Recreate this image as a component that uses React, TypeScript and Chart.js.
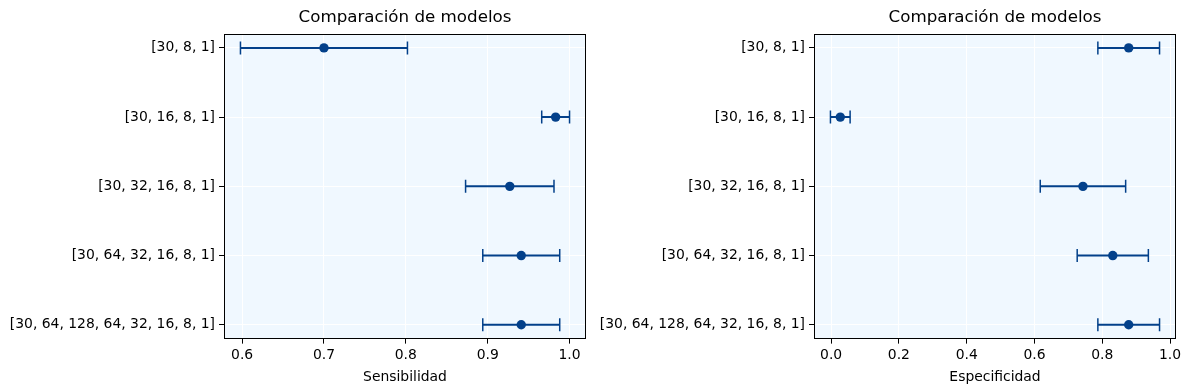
import React, { useEffect, useRef } from "react";
import { Chart, registerables } from "chart.js";

Chart.register(...registerables);

const models = [
  "[30, 8, 1]",
  "[30, 16, 8, 1]",
  "[30, 32, 16, 8, 1]",
  "[30, 64, 32, 16, 8, 1]",
  "[30, 64, 128, 64, 32, 16, 8, 1]",
];
const sensMean = [0.7, 0.983, 0.927, 0.941, 0.941];
const sensErr = [0.102, 0.017, 0.054, 0.047, 0.047];
const specMean = [0.878, 0.027, 0.743, 0.831, 0.878];
const specErr = [0.091, 0.029, 0.126, 0.105, 0.091];
const sensTicks = [0.6, 0.7, 0.8, 0.9, 1.0];
const specTicks = [0.0, 0.2, 0.4, 0.6, 0.8, 1.0];
const yIndexTicks = [0, 1, 2, 3, 4];

const COLOR = "#03408a";
const BG = "#F0F8FF";
const FONT = "'DejaVu Sans', sans-serif";

const framePlugin = {
  id: "frame",
  beforeDraw(chart: any) {
    const { ctx, chartArea: a } = chart;
    ctx.save();
    ctx.fillStyle = BG;
    ctx.fillRect(a.left, a.top, a.right - a.left, a.bottom - a.top);
    ctx.restore();
  },
  afterDatasetsDraw(chart: any) {
    const { ctx, chartArea: a } = chart;
    ctx.save();
    ctx.strokeStyle = "#000";
    ctx.lineWidth = 1;
    ctx.strokeRect(
      Math.round(a.left) + 0.5,
      Math.round(a.top) + 0.5,
      Math.round(a.right - a.left) - 1,
      Math.round(a.bottom - a.top) - 1
    );
    ctx.restore();
  },
};

type PanelProps = {
  left: number;
  width: number;
  yAxisWidth: number;
  padRight: number;
  title: string;
  xlabel: string;
  means: number[];
  errs: number[];
  xticks: number[];
};

function Panel(props: PanelProps) {
  const ref = useRef<HTMLCanvasElement | null>(null);
  useEffect(() => {
    if (!ref.current) return;
    const { means, errs } = props;
    const lows = means.map((m, i) => m - errs[i]);
    const highs = means.map((m, i) => m + errs[i]);
    const lo = Math.min(...lows);
    const hi = Math.max(...highs);
    const pad = (hi - lo) * 0.05;

    const errDatasets = means.map((m, i) => ({
      type: "scatter" as const,
      data: [
        { x: lows[i], y: i },
        { x: highs[i], y: i },
      ],
      showLine: true,
      borderColor: COLOR,
      borderWidth: 2,
      pointStyle: "line" as const,
      pointRotation: 90,
      pointRadius: 6.5,
      pointHoverRadius: 6.5,
      pointBorderWidth: 1.5,
      pointBorderColor: COLOR,
      pointBackgroundColor: COLOR,
      order: 2,
    }));

    const markerDataset = {
      type: "scatter" as const,
      data: means.map((m, i) => ({ x: m, y: i })),
      showLine: false,
      pointStyle: "circle" as const,
      pointRadius: 4.7,
      pointHoverRadius: 4.7,
      pointBackgroundColor: COLOR,
      pointBorderColor: COLOR,
      pointBorderWidth: 0,
      order: 1,
    };

    const chart = new Chart(ref.current, {
      type: "scatter",
      data: { datasets: [markerDataset, ...errDatasets] as any },
      options: {
        animation: false,
        responsive: false,
        devicePixelRatio: 1,
        layout: { padding: { left: 0, right: props.padRight, top: 8, bottom: 4 } },
        plugins: {
          legend: { display: false },
          tooltip: { enabled: false },
          title: {
            display: true,
            fullSize: false,
            text: props.title,
            color: "#000",
            font: { family: FONT, size: 16.7, weight: "normal" as any, lineHeight: 1.2 },
            padding: { top: 0, bottom: 6 },
          },
        },
        scales: {
          x: {
            type: "linear",
            min: lo - pad,
            max: hi + pad,
            afterBuildTicks: (scale: any) => {
              scale.ticks = props.xticks.map((v) => ({ value: v }));
            },
            ticks: {
              color: "#000",
              font: { family: FONT, size: 13.9 },
              padding: 3,
              maxRotation: 0,
              callback: (v: any) => Number(v).toFixed(1),
            },
            grid: {
              color: "#ffffff",
              lineWidth: 1,
              drawTicks: true,
              tickLength: 5,
              tickColor: "#000",
              tickWidth: 1,
            },
            border: { display: false },
            title: {
              display: true,
              text: props.xlabel,
              color: "#000",
              font: { family: FONT, size: 13.9 },
              padding: { top: 3, bottom: 0 },
            },
          },
          y: {
            type: "linear",
            reverse: true,
            min: -0.2,
            max: 4.2,
            afterBuildTicks: (scale: any) => {
              scale.ticks = yIndexTicks.map((v) => ({ value: v }));
            },
            afterFit: (scale: any) => {
              scale.width = props.yAxisWidth;
            },
            ticks: {
              color: "#000",
              font: { family: FONT, size: 13.9 },
              padding: 4,
              callback: (v: any) => models[Number(v)] ?? "",
            },
            grid: {
              color: "#ffffff",
              lineWidth: 1,
              drawTicks: true,
              tickLength: 5,
              tickColor: "#000",
              tickWidth: 1,
            },
            border: { display: false },
          },
        },
      },
      plugins: [framePlugin],
    });
    return () => chart.destroy();
  }, []);

  return (
    <canvas
      ref={ref}
      width={props.width}
      height={390}
      style={{ position: "absolute", left: props.left, top: 0, width: props.width, height: 390 }}
    />
  );
}

export default function App() {
  return (
    <div
      style={{
        position: "fixed",
        left: 0,
        top: 0,
        width: 1190,
        height: 390,
        background: "#fff",
        overflow: "hidden",
      }}
    >
      <Panel
        left={0}
        width={595}
        yAxisWidth={224}
        padRight={9}
        title="Comparación de modelos"
        xlabel="Sensibilidad"
        means={sensMean}
        errs={sensErr}
        xticks={sensTicks}
      />
      <Panel
        left={595}
        width={595}
        yAxisWidth={219}
        padRight={14}
        title="Comparación de modelos"
        xlabel="Especificidad"
        means={specMean}
        errs={specErr}
        xticks={specTicks}
      />
    </div>
  );
}
